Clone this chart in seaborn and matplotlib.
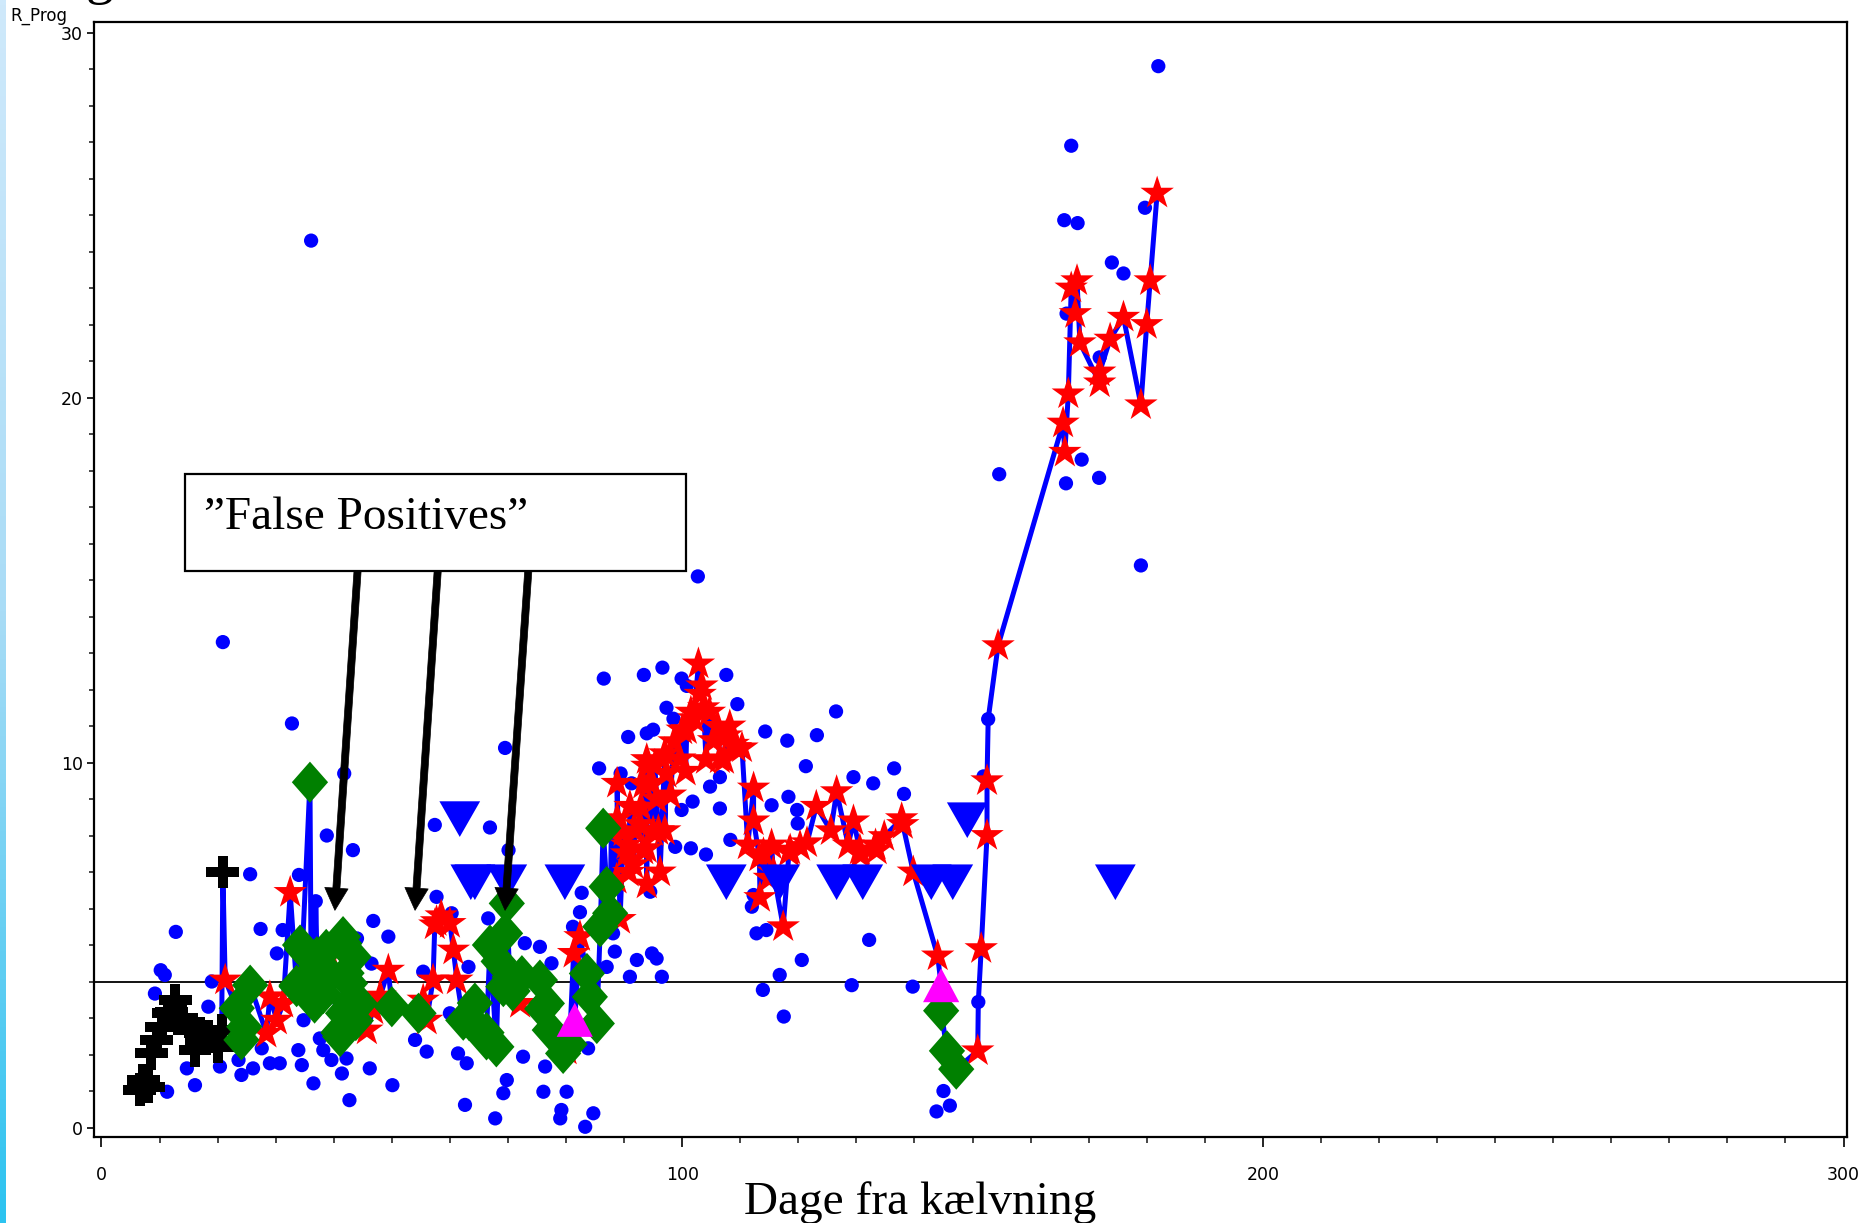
import numpy as np
import pandas as pd
import matplotlib
matplotlib.use("Agg")
import matplotlib.pyplot as plt
import seaborn as sns
from matplotlib.patches import Rectangle
from matplotlib.colors import LinearSegmentedColormap

# ---------------- data ----------------
# trajectory of the followed cow: day, value, symbol category
# P = plus (black), D = diamond (green), S = star (red), T = triangle (magenta), C = plain dot
traj_day = [6.6, 7.2, 8.1, 8.6, 9.5, 10.4, 11.5, 12.1, 12.7, 13.8, 15.2, 16.1, 17.0, 18.4, 20.1, 20.7, 20.9,
            21.3, 23.3, 24.1, 24.6, 25.6, 28.4, 29.0, 30.2, 31.3, 32.5, 33.6, 34.2, 35.9, 36.9, 37.1, 38.2,
            39.3, 39.3, 41.1, 41.6, 41.6, 42.8, 43.4, 44.5, 45.7, 46.8, 48.0, 49.4, 50.0, 54.6, 55.4, 56.0,
            57.1, 57.4, 57.7, 58.5, 60.0, 60.6, 61.2, 62.3, 63.7, 66.3, 66.9, 68.0, 68.4, 69.2, 69.5, 69.8,
            70.3, 72.1, 75.5, 76.7, 77.2, 79.5, 80.1, 81.3, 81.5, 82.4, 83.6, 84.1, 85.3, 85.9, 86.4, 87.0,
            87.6, 88.7, 89.3, 89.9, 90.4, 91.0, 91.6, 92.7, 93.3, 93.3, 93.9, 95.0, 95.6, 96.2, 97.3, 99.6,
            100.8, 102.0, 102.8, 103.4, 103.7, 105.4, 106.5, 108.2, 108.8, 112.3, 112.3, 113.4, 114.0, 115.7,
            117.4, 118.6, 120.3, 123.1, 126.6, 129.5, 130.6, 133.5, 138.0, 139.8, 144.0, 144.6, 144.6, 145.6,
            147.2, 150.9, 151.0, 151.5, 152.5, 152.5, 152.7, 154.4, 165.6, 165.9, 166.5, 167.0, 167.7, 168.0,
            168.5, 171.9, 171.9, 173.7, 176.0, 179.0, 180.0, 180.6, 181.8]
traj_val = [1.03, 1.30, 1.12, 2.03, 2.40, 2.76, 3.13, 3.17, 3.49, 2.99, 2.67, 2.12, 2.58, 2.49, 2.21, 2.67, 7.00,
            4.04, 3.27, 2.40, 2.76, 3.90, 2.58, 3.58, 2.94, 3.40, 6.44, 3.86, 5.00, 9.46, 6.20, 4.68, 3.67,
            4.20, 4.68, 2.49, 3.13, 5.23, 3.95, 4.68, 3.40, 2.67, 3.22, 3.60, 4.31, 3.31, 3.13, 3.49, 2.94,
            4.04, 5.55, 5.64, 5.80, 5.59, 4.86, 4.04, 2.94, 2.93, 2.40, 5.00, 2.21, 4.55, 3.86, 5.32, 6.14,
            4.13, 3.40, 4.04, 3.40, 2.67, 2.03, 2.12, 4.77, 2.95, 5.23, 4.22, 3.58, 2.85, 5.50, 8.20, 6.60,
            5.87, 6.80, 5.70, 8.10, 7.50, 8.80, 7.20, 8.30, 7.60, 9.40, 9.90, 8.10, 9.00, 7.00, 9.70, 10.10,
            10.90, 11.20, 12.70, 12.10, 11.50, 10.60, 10.10, 11.00, 10.50, 9.30, 8.40, 6.30, 7.50, 7.00,
            5.50, 7.60, 7.70, 8.80, 9.20, 8.40, 7.60, 7.60, 8.30, 7.00, 4.70, 3.90, 3.20, 2.10,
            1.60, 2.10, 3.44, 4.90, 8.00, 9.50, 11.19, 13.20, 19.30, 18.50, 20.10, 23.00, 22.30, 23.20,
            21.50, 20.40, 20.70, 21.60, 22.20, 19.80, 22.00, 23.20, 25.60]
traj_cat = (["P"] * 17 +
            ["S", "D", "D", "D", "D", "S", "S", "S", "S", "S", "D", "D", "D", "C", "D", "D",
             "D", "S", "D", "D", "D", "D", "D", "D", "S", "S", "S", "S", "D", "D", "S", "S",
             "S", "S", "S", "S", "S", "S", "S", "D", "D", "D", "D", "D", "D", "D", "D", "D",
             "D", "S", "D", "D", "D", "D", "S", "S", "T", "S", "D", "D", "D", "D", "D", "D",
             "D"] +
            ["S"] * 40 +
            ["T", "D", "D", "D", "S", "C", "S", "S", "S", "C", "S"] +
            ["S"] * 15)

# further samples of the same cow inside the dense clusters
more_day = [33.6, 34.6, 36.1, 36.7, 37.7, 38.7, 40.8, 41.8, 42.2, 42.8, 43.8,
            63.3, 64.3, 66.3, 70.8, 72.4, 75.9, 80.6,
            88.8, 90.4, 90.8, 91.9, 92.9, 93.9, 93.9, 94.5, 95.3, 95.9, 97.0, 98.0, 98.6, 100.0, 100.6,
            101.5, 103.1, 104.1, 104.7, 106.1, 107.6, 109.2,
            111.3, 113.3, 115.0, 115.4, 118.4, 121.5, 125.6, 128.6, 130.7, 133.3, 134.8, 137.8,
            87.8, 88.8, 93.9, 97.0, 107.2, 110.3]
more_val = [3.90, 4.88, 4.23, 3.41, 3.74, 4.88, 2.60, 5.04, 4.23, 3.41, 2.93,
            2.93, 3.41, 2.60, 3.74, 4.16, 3.25, 2.28,
            8.46, 7.74, 6.99, 8.13, 8.78, 7.64, 6.67, 9.43, 9.92, 8.13, 10.24, 9.11, 10.57, 10.89, 9.76,
            11.38, 11.87, 10.08, 11.38, 10.99, 10.73, 10.41,
            7.74, 7.41, 6.83, 7.74, 7.54, 7.80, 8.13, 7.74, 7.48, 7.74, 7.97, 8.46,
            8.13, 9.43, 10.08, 8.13, 10.08, 10.40]
more_cat = ["D"] * 11 + ["D"] * 7 + ["S"] * 22 + ["S"] * 12 + ["S"] * 6

# other samples (blue dots)
dot_day = [20.9, 32.8, 36.1, 41.8, 38.8, 43.3, 25.6, 34.0, 12.8, 27.4, 31.2, 46.8, 49.4, 44.0, 30.2, 10.2, 10.9,
           46.5, 9.2, 19.0, 18.4, 34.8, 37.6, 38.2, 39.6, 42.2, 41.4, 46.2, 33.9, 34.5, 30.7, 29.0, 26.1, 24.1,
           23.6, 20.4, 27.6, 14.7, 16.1, 11.3, 36.5, 42.7, 50.1, 57.7, 60.3, 66.6, 57.4, 66.9, 69.5, 63.2,
           55.4, 54.0, 56.0, 61.4, 62.9, 62.6, 67.8, 69.2, 69.8, 60.0, 86.5, 93.4, 96.6, 99.9, 100.8, 107.6,
           109.5, 97.3, 98.5, 90.7, 93.9, 95.0, 114.3, 118.1, 123.2, 126.5, 85.7, 89.4, 91.3, 104.8, 106.5,
           121.3, 129.5, 132.9, 136.5, 138.2, 99.9, 101.8, 106.5, 115.4, 118.3, 119.8, 119.9, 98.8, 101.5,
           104.1, 108.3, 94.5, 112.3, 112.0, 114.5, 112.8, 82.7, 82.4, 81.2, 88.1, 88.4, 87.0, 92.2, 94.8,
           95.6, 91.0, 96.5, 72.9, 75.5, 77.5, 70.1, 72.6, 76.4, 76.1, 80.1, 79.2, 79.0, 83.3, 84.7, 83.8,
           120.6, 116.8, 113.9, 132.2, 129.2, 139.7, 117.5, 145.0, 143.8, 146.1, 151.9, 154.6, 182.0, 167.0,
           165.8, 168.1, 174.0, 176.0, 179.7, 166.1, 168.8, 171.8, 179.0, 166.2, 171.9, 102.7]
dot_val = [13.3, 11.07, 24.3, 9.7, 8.0, 7.6, 6.94, 6.92, 5.36, 5.44, 5.41, 5.66, 5.23, 5.18, 4.77, 4.31, 4.18,
           4.49, 3.67, 4.0, 3.31, 2.94, 2.44, 2.12, 1.85, 1.89, 1.48, 1.62, 2.12, 1.71, 1.76, 1.76, 1.62, 1.44,
           1.85, 1.67, 2.17, 1.62, 1.16, 0.98, 1.21, 0.75, 1.16, 6.32, 5.87, 5.73, 8.29, 8.22, 10.4, 4.4,
           4.27, 2.4, 2.08, 2.03, 1.76, 0.62, 0.25, 0.94, 1.3, 3.13, 12.3, 12.4, 12.6, 12.3, 12.1, 12.4,
           11.6, 11.5, 11.2, 10.7, 10.8, 10.9, 10.85, 10.6, 10.75, 11.4, 9.84, 9.7, 9.43, 9.34, 9.6,
           9.9, 9.6, 9.43, 9.84, 9.14, 8.7, 8.93, 8.74, 8.83, 9.06, 8.7, 8.33, 7.69, 7.65,
           7.48, 7.88, 6.46, 6.37, 6.05, 5.41, 5.32, 6.43, 5.9, 5.5, 5.32, 4.82, 4.4, 4.59, 4.77,
           4.63, 4.13, 4.13, 5.05, 4.95, 4.5, 7.6, 1.94, 1.67, 0.98, 0.98, 0.48, 0.25, 0.02, 0.39, 2.17,
           4.59, 4.18, 3.77, 5.14, 3.9, 3.86, 3.04, 1.0, 0.44, 0.6, 9.62, 17.9, 29.08, 26.9,
           24.86, 24.78, 23.7, 23.4, 25.2, 17.65, 18.3, 17.8, 15.4, 22.3, 21.1, 15.1]

# separate events (blue down triangles)
evt_day = [61.7, 63.6, 64.3, 69.8, 79.8, 107.6, 116.8, 126.6, 131.1, 142.9, 146.6, 149.1, 174.6]
evt_val = [8.45, 6.72, 6.72, 6.72, 6.72, 6.72, 6.72, 6.72, 6.72, 6.72, 6.72, 8.42, 6.72]

x_ticks = [0, 100, 200, 300]
y_ticks = [0, 10, 20, 30]
threshold = 4
x_label = "Dage fra kælvning"
y_label = "R_Prog"
note_text = "\u201dFalse Positives\u201d"
arrow_tips = [(40.2, 5.95), (54.0, 5.95), (69.5, 5.95)]
arrow_tails = [(44.1, 15.25), (57.9, 15.25), (73.5, 15.25)]

# ---------------- figure ----------------
sns.set_theme(style="ticks")
plt.rcParams['font.family'] = ['DejaVu Sans']

W, H = 1861, 1223
fig = plt.figure(figsize=(W / 100, H / 100), dpi=100)
fig.patch.set_facecolor("white")
ax = fig.add_axes([94 / W, 1 - 1137 / H, (1847 - 94) / W, (1137 - 22) / H])
ax.set_facecolor("white")

traj = pd.concat([pd.DataFrame({"day": traj_day, "val": traj_val, "cat": traj_cat}),
                  pd.DataFrame({"day": more_day, "val": more_val, "cat": more_cat})],
                 ignore_index=True).sort_values("day", kind="stable")
dots = pd.DataFrame({"day": dot_day, "val": dot_val})
evts = pd.DataFrame({"day": evt_day, "val": evt_val})

BLUE = "#0000ff"
sns.lineplot(data=traj, x="day", y="val", sort=False, estimator=None, color=BLUE,
             lw=3.6, ax=ax, zorder=3, legend=False)

sns.scatterplot(data=dots, x="day", y="val", color=BLUE, s=105, marker="o",
                linewidth=0, edgecolor="none", ax=ax, zorder=4, legend=False)
sns.scatterplot(data=traj[traj.cat == "C"], x="day", y="val", color=BLUE, s=105, marker="o",
                linewidth=0, edgecolor="none", ax=ax, zorder=4, legend=False)

a = 0.3
plus_m = [(-a, -1), (-a, -a), (-1, -a), (-1, a), (-a, a), (-a, 1), (a, 1), (a, a), (1, a), (1, -a),
          (a, -a), (a, -1), (-a, -1)]
diam_m = [(0, 1), (0.88, 0), (0, -1), (-0.88, 0), (0, 1)]
down_m = [(-1, 0.875), (1, 0.875), (0, -0.875), (-1, 0.875)]
up_m = [(-1, -0.94), (1, -0.94), (0, 0.94), (-1, -0.94)]

sns.scatterplot(data=traj[traj.cat == "S"], x="day", y="val", color="#ff0000", s=640, marker="*",
                linewidth=0, edgecolor="none", ax=ax, zorder=5, legend=False)
sns.scatterplot(data=traj[traj.cat == "P"], x="day", y="val", color="black", s=560, marker=plus_m,
                linewidth=0, edgecolor="none", ax=ax, zorder=6, legend=False)
sns.scatterplot(data=traj[traj.cat == "D"], x="day", y="val", color="#008000", s=880, marker=diam_m,
                linewidth=0, edgecolor="none", ax=ax, zorder=6, legend=False)
sns.scatterplot(data=traj[traj.cat == "T"], x="day", y="val", color="#ff00ff", s=680, marker=up_m,
                linewidth=0, edgecolor="none", ax=ax, zorder=7, legend=False)
sns.scatterplot(data=evts, x="day", y="val", color=BLUE, s=860, marker=down_m,
                linewidth=0, edgecolor="none", ax=ax, zorder=8, legend=False)

ax.axhline(threshold, color="black", lw=1.3, zorder=2)

ax.add_patch(Rectangle((14.38, 15.25), 100.65 - 14.38, 17.9 - 15.25, facecolor="white",
                       edgecolor="black", lw=1.6, zorder=10))
ax.text(17.7, 16.72, note_text, family=["Liberation Serif", "DejaVu Serif"], fontsize=34,
        ha="left", va="center", zorder=11, color="black")
for tail, tip in zip(arrow_tails, arrow_tips):
    ax.annotate("", xy=tip, xytext=tail,
                arrowprops=dict(arrowstyle="simple,head_length=1.0,head_width=1.05,tail_width=0.32",
                                mutation_scale=16, color="black", shrinkA=0, shrinkB=0, lw=0.5),
                zorder=12)

ax.set_xlim(-1.29, 300.6)
ax.set_ylim(-0.26, 30.29)
ax.set_xticks(x_ticks)
ax.set_xticks(np.arange(0, 301, 10), minor=True)
ax.set_yticks(y_ticks)
ax.set_yticks(np.arange(0, 31, 1), minor=True)
ax.set_xticklabels([str(t) for t in x_ticks])
ax.set_yticklabels([str(t) for t in y_ticks])
ax.tick_params(axis="x", which="major", direction="out", length=7, width=1.2, pad=14,
               labelsize=12.5, colors="black")
ax.tick_params(axis="x", which="minor", direction="out", length=4, width=1.2)
ax.tick_params(axis="y", which="major", direction="out", length=5, width=1.2, pad=3,
               labelsize=12.5, colors="black")
ax.tick_params(axis="y", which="minor", direction="out", length=3.5, width=1.2)
for sp in ax.spines.values():
    sp.set_visible(True)
    sp.set_color("black")
    sp.set_linewidth(1.6)
ax.set_xlabel("")
ax.set_ylabel("")

fig.text(10 / W, 1 - 21 / H, y_label, fontsize=12, ha="left", va="baseline", color="black")
fig.text(920 / W, 1 - 1214 / H, x_label, family=["Liberation Serif", "DejaVu Serif"], fontsize=34,
         ha="center", va="baseline", color="black")
fig.text(86 / W, 1 + 7 / H, "g", family=["Liberation Serif", "DejaVu Serif"], fontsize=40,
         ha="left", va="baseline", color="black")

strip = fig.add_axes([0, 0, 6 / W, 1])
cmap = LinearSegmentedColormap.from_list("strip", ["#cfe9fb", "#a9dcf6", "#2cc3f0"])
strip.imshow(np.linspace(0, 1, 256).reshape(-1, 1), aspect="auto", cmap=cmap)
strip.set_axis_off()

fig.savefig("out.png", dpi=100, facecolor="white")
